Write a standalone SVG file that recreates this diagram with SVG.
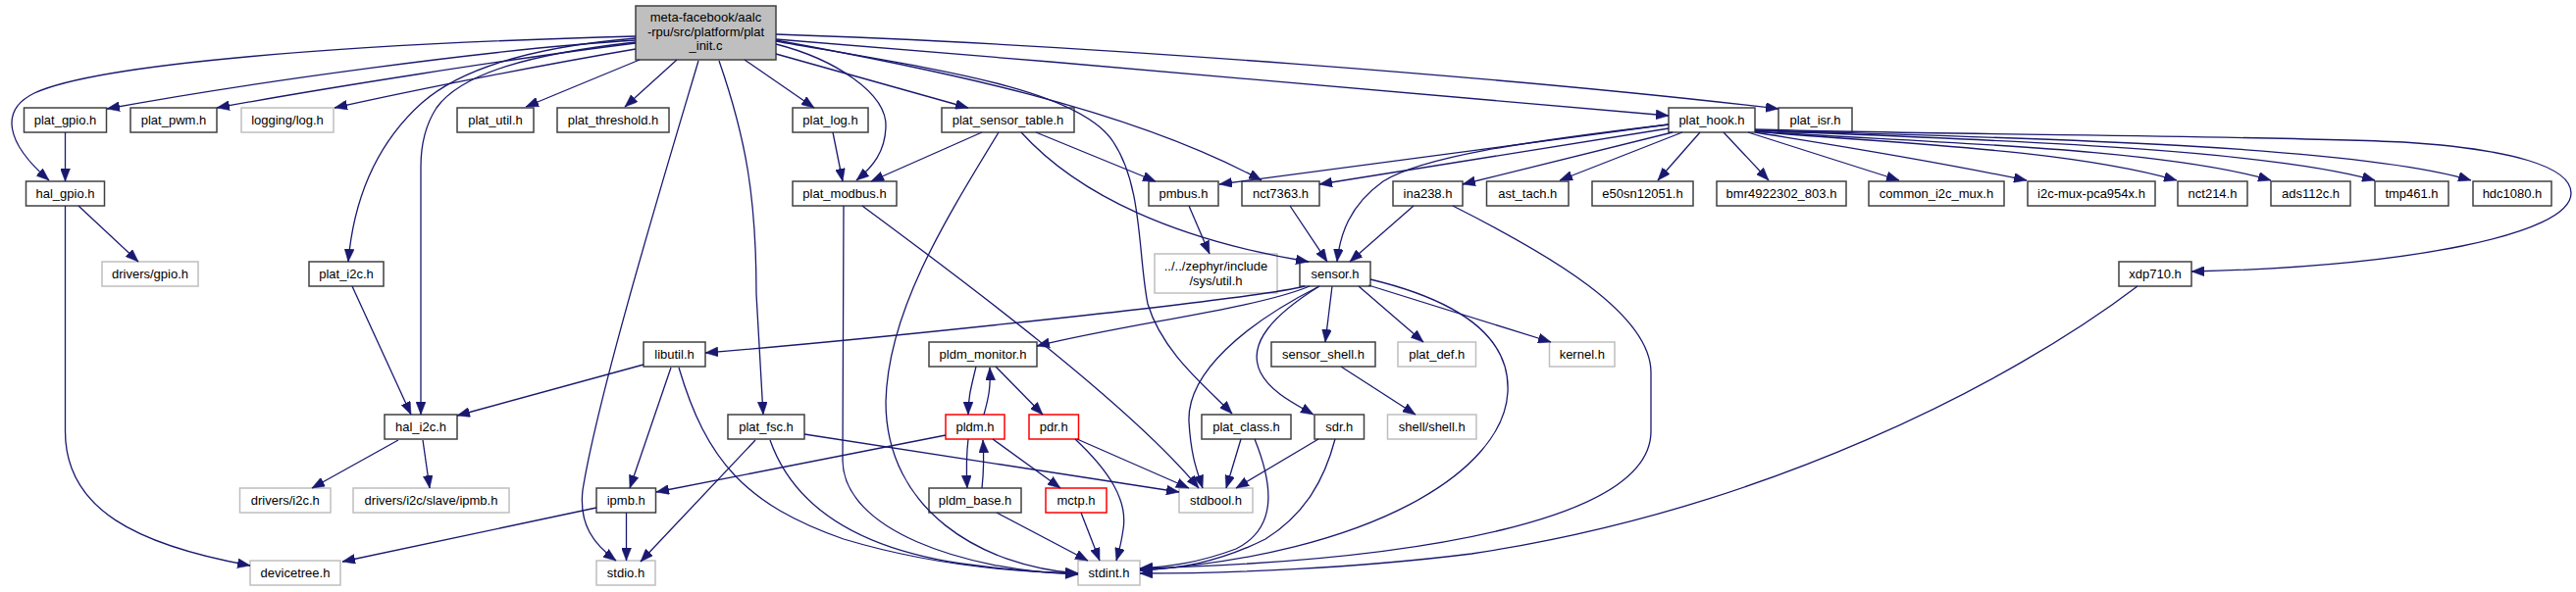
<svg xmlns="http://www.w3.org/2000/svg" width="2626" height="604" viewBox="0 0 2626 604">
<defs>
<marker id="a" markerUnits="userSpaceOnUse" markerWidth="14" markerHeight="10" refX="13" refY="5" orient="auto" viewBox="0 0 14 10"><path d="M0,0 L13,5 L0,10 z" fill="#191970" stroke="#191970" stroke-width="0.5"/></marker>
</defs>
<style>
.n rect{fill:#fff;stroke:#404040;stroke-width:1.5}
.g rect{stroke:#bfbfbf}
.r rect{stroke:#ff0000}
.m rect{fill:#bfbfbf}
text{font-family:"Liberation Sans",Arial,sans-serif;font-size:13px;text-anchor:middle;fill:#000}
.e path{fill:none;stroke:#191970;stroke-width:1.3;marker-end:url(#a)}
</style>
<rect width="2626" height="604" fill="#fff"/>
<g id="nodes">
<g id="main" class="n m"><rect x="648" y="6" width="143" height="55"/><text x="719.5" y="22">meta-facebook/aalc</text><text x="719.5" y="36.5">-rpu/src/platform/plat</text><text x="719.5" y="51">_init.c</text></g>
<g id="plat_gpio" class="n"><rect x="24.5" y="110" width="84" height="25"/><text x="66.5" y="127">plat_gpio.h</text></g>
<g id="plat_pwm" class="n"><rect x="133" y="110" width="88" height="25"/><text x="177" y="127">plat_pwm.h</text></g>
<g id="logging_log" class="n g"><rect x="246" y="110" width="94" height="25"/><text x="293" y="127">logging/log.h</text></g>
<g id="plat_util" class="n"><rect x="466" y="110" width="78" height="25"/><text x="505" y="127">plat_util.h</text></g>
<g id="plat_threshold" class="n"><rect x="568" y="110" width="114" height="25"/><text x="625" y="127">plat_threshold.h</text></g>
<g id="plat_log" class="n"><rect x="808" y="110" width="77" height="25"/><text x="846.5" y="127">plat_log.h</text></g>
<g id="plat_sensor_table" class="n"><rect x="960" y="110" width="135" height="25"/><text x="1027.5" y="127">plat_sensor_table.h</text></g>
<g id="plat_hook" class="n"><rect x="1701" y="110" width="88" height="25"/><text x="1745" y="127">plat_hook.h</text></g>
<g id="plat_isr" class="n"><rect x="1813" y="110" width="75" height="25"/><text x="1850.5" y="127">plat_isr.h</text></g>
<g id="hal_gpio" class="n"><rect x="26.5" y="185" width="80" height="25"/><text x="66.5" y="202">hal_gpio.h</text></g>
<g id="plat_modbus" class="n"><rect x="808" y="185" width="106" height="25"/><text x="861" y="202">plat_modbus.h</text></g>
<g id="pmbus" class="n"><rect x="1171" y="185" width="71" height="25"/><text x="1206.5" y="202">pmbus.h</text></g>
<g id="nct7363" class="n"><rect x="1266" y="185" width="79" height="25"/><text x="1305.5" y="202">nct7363.h</text></g>
<g id="ina238" class="n"><rect x="1420" y="185" width="71" height="25"/><text x="1455.5" y="202">ina238.h</text></g>
<g id="ast_tach" class="n"><rect x="1515.5" y="185" width="83.5" height="25"/><text x="1557.25" y="202">ast_tach.h</text></g>
<g id="e50sn12051" class="n"><rect x="1623" y="185" width="103" height="25"/><text x="1674.5" y="202">e50sn12051.h</text></g>
<g id="bmr4922302_803" class="n"><rect x="1750" y="185" width="132" height="25"/><text x="1816" y="202">bmr4922302_803.h</text></g>
<g id="common_i2c_mux" class="n"><rect x="1905" y="185" width="138" height="25"/><text x="1974" y="202">common_i2c_mux.h</text></g>
<g id="i2c_mux_pca954x" class="n"><rect x="2067" y="185" width="130" height="25"/><text x="2132" y="202">i2c-mux-pca954x.h</text></g>
<g id="nct214" class="n"><rect x="2220" y="185" width="71" height="25"/><text x="2255.5" y="202">nct214.h</text></g>
<g id="ads112c" class="n"><rect x="2315" y="185" width="81" height="25"/><text x="2355.5" y="202">ads112c.h</text></g>
<g id="tmp461" class="n"><rect x="2421" y="185" width="75" height="25"/><text x="2458.5" y="202">tmp461.h</text></g>
<g id="hdc1080" class="n"><rect x="2521" y="185" width="80" height="25"/><text x="2561" y="202">hdc1080.h</text></g>
<g id="drivers_gpio" class="n g"><rect x="104" y="267" width="98" height="25"/><text x="153" y="284">drivers/gpio.h</text></g>
<g id="plat_i2c" class="n"><rect x="315" y="267" width="76" height="25"/><text x="353" y="284">plat_i2c.h</text></g>
<g id="zephyr_util" class="n g"><rect x="1177" y="259" width="125" height="40"/><text x="1239.5" y="276">../../zephyr/include</text><text x="1239.5" y="290.5">/sys/util.h</text></g>
<g id="sensor" class="n"><rect x="1325" y="267" width="72" height="25"/><text x="1361" y="284">sensor.h</text></g>
<g id="xdp710" class="n"><rect x="2160" y="267" width="74" height="25"/><text x="2197" y="284">xdp710.h</text></g>
<g id="libutil" class="n"><rect x="656" y="349" width="63" height="25"/><text x="687.5" y="366">libutil.h</text></g>
<g id="pldm_monitor" class="n"><rect x="947" y="349" width="110" height="25"/><text x="1002" y="366">pldm_monitor.h</text></g>
<g id="sensor_shell" class="n"><rect x="1296" y="349" width="106" height="25"/><text x="1349" y="366">sensor_shell.h</text></g>
<g id="plat_def" class="n g"><rect x="1425" y="349" width="79.5" height="25"/><text x="1464.75" y="366">plat_def.h</text></g>
<g id="kernel" class="n g"><rect x="1579.5" y="349" width="66.5" height="25"/><text x="1612.75" y="366">kernel.h</text></g>
<g id="hal_i2c" class="n"><rect x="392" y="423" width="74" height="25"/><text x="429" y="440">hal_i2c.h</text></g>
<g id="plat_fsc" class="n"><rect x="742" y="423" width="78" height="25"/><text x="781" y="440">plat_fsc.h</text></g>
<g id="pldm" class="n r"><rect x="964" y="423" width="60" height="25"/><text x="994" y="440">pldm.h</text></g>
<g id="pdr" class="n r"><rect x="1049" y="423" width="50.5" height="25"/><text x="1074.25" y="440">pdr.h</text></g>
<g id="plat_class" class="n"><rect x="1225" y="423" width="91" height="25"/><text x="1270.5" y="440">plat_class.h</text></g>
<g id="sdr" class="n"><rect x="1340" y="423" width="50.5" height="25"/><text x="1365.25" y="440">sdr.h</text></g>
<g id="shell" class="n g"><rect x="1414.5" y="423" width="90.5" height="25"/><text x="1459.75" y="440">shell/shell.h</text></g>
<g id="drivers_i2c" class="n g"><rect x="244.5" y="498" width="92.5" height="25"/><text x="290.75" y="515">drivers/i2c.h</text></g>
<g id="drivers_ipmb" class="n g"><rect x="360" y="498" width="159" height="25"/><text x="439.5" y="515">drivers/i2c/slave/ipmb.h</text></g>
<g id="ipmb" class="n"><rect x="608" y="498" width="60.5" height="25"/><text x="638.25" y="515">ipmb.h</text></g>
<g id="pldm_base" class="n"><rect x="947" y="498" width="94" height="25"/><text x="994" y="515">pldm_base.h</text></g>
<g id="mctp" class="n r"><rect x="1066" y="498" width="62" height="25"/><text x="1097" y="515">mctp.h</text></g>
<g id="stdbool" class="n g"><rect x="1202" y="498" width="75" height="25"/><text x="1239.5" y="515">stdbool.h</text></g>
<g id="devicetree" class="n g"><rect x="255" y="572" width="92" height="25"/><text x="301" y="589">devicetree.h</text></g>
<g id="stdio" class="n g"><rect x="608" y="572" width="60" height="25"/><text x="638" y="589">stdio.h</text></g>
<g id="stdint" class="n g"><rect x="1099" y="572" width="63" height="25"/><text x="1130.5" y="589">stdint.h</text></g>
</g>
<g id="edges" class="e">
<path d="M648,41 C500,50 250,85 109,111"/>
<path d="M648,44 C520,60 330,90 221,110"/>
<path d="M648,50 C560,65 430,90 341,110"/>
<path d="M652,61 L536,109"/>
<path d="M690,61 L637,109"/>
<path d="M648,37 C350,45 100,65 35,95 C0,112 5,145 50,184"/>
<path d="M648,39 C540,48 470,70 430,105 C380,150 360,210 355,267"/>
<path d="M648,43 C540,55 470,75 445,110 C432,130 429,150 429,170 L429,423"/>
<path d="M759,61 L830,110"/>
<path d="M791,45 C850,60 905,95 903,130 C902,155 890,170 873,184"/>
<path d="M791,55 L987,110"/>
<path d="M712,62 C680,170 610,400 594,500 C590,535 605,555 628,572"/>
<path d="M733,62 C760,140 771,200 771,300 L778,423"/>
<path d="M791,41 C950,70 1150,110 1286,184"/>
<path d="M791,42 C950,70 1100,90 1135,145 C1165,190 1160,260 1170,310 C1185,360 1230,395 1256,422"/>
<path d="M791,40 C1100,65 1450,95 1701,118"/>
<path d="M791,35 C1100,45 1550,80 1813,111"/>
<path d="M66.5,135 L66.5,185"/>
<path d="M80,210 L141,267"/>
<path d="M66.5,210 L66.5,440 C66.5,520 140,556 255,577"/>
<path d="M849,135 L859,185"/>
<path d="M1001,135 L888,185"/>
<path d="M1056,135 L1178,185"/>
<path d="M1018,135 C960,230 905,320 903,410 C903,520 1000,578 1099,585"/>
<path d="M1041,135 C1100,200 1200,245 1334,267"/>
<path d="M860,210 L859,470 C860,540 980,582 1099,586"/>
<path d="M879,210 C960,270 1150,410 1222,498"/>
<path d="M1212,210 L1233,259"/>
<path d="M1701,127 L1243,188"/>
<path d="M1701,131 L1345,188"/>
<path d="M1701,127 C1550,145 1450,160 1410,185 C1375,210 1366,240 1363,267"/>
<path d="M1705,135 L1491,188"/>
<path d="M1715,135 L1590,184"/>
<path d="M1733,135 L1690,184"/>
<path d="M1757,135 L1803,184"/>
<path d="M1782,135 L1936,184"/>
<path d="M1789,135 C1850,145 1950,160 2066,184"/>
<path d="M1789,134 C1900,145 2100,150 2219,184"/>
<path d="M1789,134 C1950,145 2200,150 2315,184"/>
<path d="M1789,133 C2000,142 2300,150 2421,184"/>
<path d="M1789,133 C2050,140 2400,148 2519,184"/>
<path d="M1789,132 C2000,138 2300,138 2450,145 C2560,152 2621,170 2621,197 C2621,240 2450,272 2234,277"/>
<path d="M1315,210 L1353,267"/>
<path d="M1441,210 L1376,267"/>
<path d="M1481,210 C1580,260 1683,320 1683,380 L1683,440 C1683,530 1450,572 1162,580"/>
<path d="M2179,292 C2050,390 1800,520 1500,565 C1380,580 1250,585 1162,585"/>
<path d="M1330,292 C1280,305 900,345 719,360"/>
<path d="M1335,292 C1280,315 1150,330 1057,353"/>
<path d="M1345,292 C1270,330 1210,380 1212,430 C1214,465 1220,480 1226,498"/>
<path d="M1345,292 C1300,320 1270,350 1285,380 C1295,400 1320,412 1339,423"/>
<path d="M1358,292 L1351,349"/>
<path d="M1385,292 L1451,349"/>
<path d="M1395,291 L1581,349"/>
<path d="M1397,285 C1480,305 1540,340 1537,400 C1533,480 1400,565 1162,582"/>
<path d="M656,372 L466,424"/>
<path d="M684,375 L642,498"/>
<path d="M692,375 C720,470 760,515 860,550 C960,580 1050,584 1099,585"/>
<path d="M359,292 L419,423"/>
<path d="M406,449 L318,498"/>
<path d="M431,449 L438,498"/>
<path d="M608,518 L349,573"/>
<path d="M638.5,523 L638.5,572"/>
<path d="M770,449 L653,573"/>
<path d="M785,449 C810,520 880,560 980,575 C1040,583 1070,584 1099,585"/>
<path d="M820,443 L1202,502"/>
<path d="M995,374 C990,395 987,405 987,423"/>
<path d="M1003,423 C1008,405 1010,395 1009,375"/>
<path d="M1015,374 L1063,423"/>
<path d="M987,448 C985,465 985,480 986,498"/>
<path d="M1001,498 C1003,480 1003,465 1002,449"/>
<path d="M1012,448 L1081,498"/>
<path d="M964,444 L669,502"/>
<path d="M1098,448 L1212,498"/>
<path d="M1096,448 C1130,480 1150,510 1145,540 C1143,555 1140,565 1138,572"/>
<path d="M1102,523 L1121,572"/>
<path d="M1016,523 L1109,572"/>
<path d="M1265,448 L1250,498"/>
<path d="M1279,448 C1300,500 1300,540 1260,560 C1220,575 1190,578 1162,580"/>
<path d="M1344,448 L1260,498"/>
<path d="M1361,448 C1350,490 1330,525 1290,550 C1240,575 1200,580 1162,582"/>
<path d="M1367,374 L1443,423"/>
</g>
</svg>
